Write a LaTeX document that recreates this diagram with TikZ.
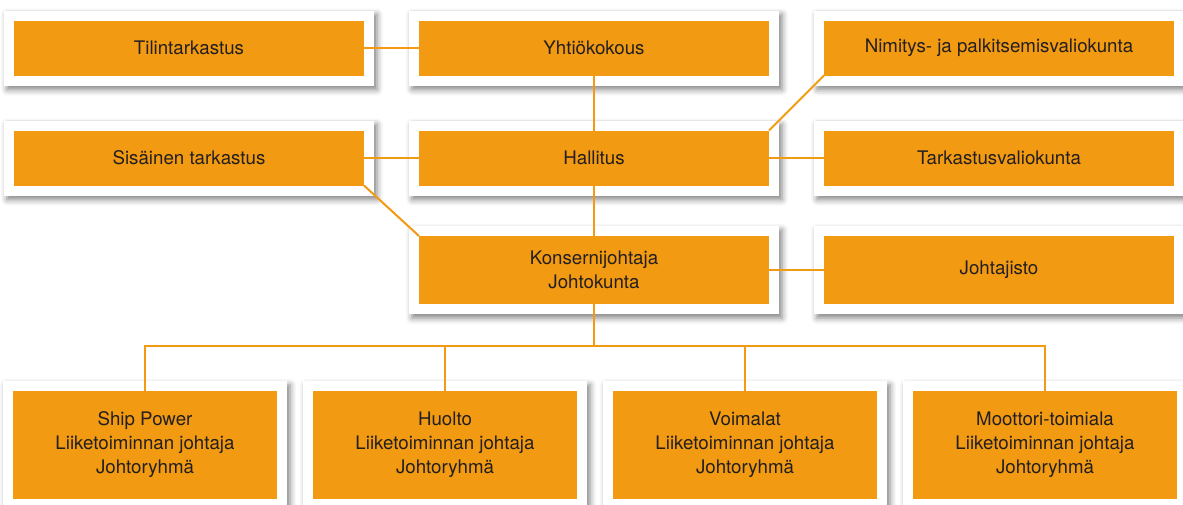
\documentclass[tikz,border=0pt]{standalone}
\usepackage{fontspec}
\setmainfont{TeX Gyre Heros}
\usepackage{tikz}
\usetikzlibrary{fit,backgrounds,shadows.blur}
\definecolor{boxorange}{RGB}{242,154,18}
\definecolor{boxtext}{RGB}{35,31,32}

\begin{document}
\begin{tikzpicture}[x=1pt,y=-1pt,
    box/.style={fill=boxorange, text=boxtext, align=center, inner sep=0pt, outer sep=0pt,
        minimum width=350pt, minimum height=55pt, font=\fontsize{18.7}{24}\selectfont},
    tallbox/.style={box, minimum height=68pt},
    unitbox/.style={box, minimum width=264pt, minimum height=108pt},
    frame/.style={fill=white, inner sep=10pt,
        blur shadow={shadow xshift=3pt, shadow yshift=-4pt, shadow blur radius=6pt, shadow opacity=50}},
    link/.style={draw=boxorange, line width=2pt, line join=miter}]
    \useasboundingbox (0,0) rectangle (1183,504);
    %%top row
    \node[box] (tilin) at (189,48) {Tilintarkastus};
    \node[box] (yhtio) at (594,48) {Yhtiökokous};
    \node[box] (nimitys) at (999,48) {Nimitys- ja palkitsemisvaliokunta};
    %%board row
    \node[box] (sisainen) at (189,158) {Sisäinen tarkastus};
    \node[box] (hallitus) at (594,158) {Hallitus};
    \node[box] (tarkastus) at (999,158) {Tarkastusvaliokunta};
    %%management row
    \node[tallbox] (konserni) at (594,270) {Konsernijohtaja\\Johtokunta};
    \node[tallbox] (johtajisto) at (999,270) {Johtajisto};
    %%business units
    \node[unitbox] (ship) at (145,445) {Ship Power\\Liiketoiminnan johtaja\\Johtoryhmä};
    \node[unitbox] (huolto) at (445,445) {Huolto\\Liiketoiminnan johtaja\\Johtoryhmä};
    \node[unitbox] (voimalat) at (745,445) {Voimalat\\Liiketoiminnan johtaja\\Johtoryhmä};
    \node[unitbox] (moottori) at (1045,445) {Moottori-toimiala\\Liiketoiminnan johtaja\\Johtoryhmä};
    %%white frames
    \begin{scope}[on background layer]
        \foreach \n in {tilin,yhtio,nimitys,sisainen,hallitus,tarkastus,konserni,johtajisto,ship,huolto,voimalat,moottori}
            \node[frame, fit=(\n)] (\n-frame) {};
    \end{scope}
    %%connectors
    \draw[link] (tilin) -- (yhtio);
    \draw[link] (yhtio) -- (hallitus);
    \draw[link] (hallitus.north east) -- (nimitys.south west);
    \draw[link] (sisainen) -- (hallitus);
    \draw[link] (hallitus) -- (tarkastus);
    \draw[link] (sisainen.south east) -- (konserni.north west);
    \draw[link] (hallitus) -- (konserni);
    \draw[link] (konserni) -- (johtajisto);
    \coordinate (bus) at (594,346);
    \draw[link] (konserni) -- (bus);
    \draw[link] (ship) -- (ship |- bus) -- (moottori |- bus) -- (moottori);
    \foreach \b in {huolto,voimalat}
        \draw[link] (\b |- bus) -- (\b);
\end{tikzpicture}
\end{document}
